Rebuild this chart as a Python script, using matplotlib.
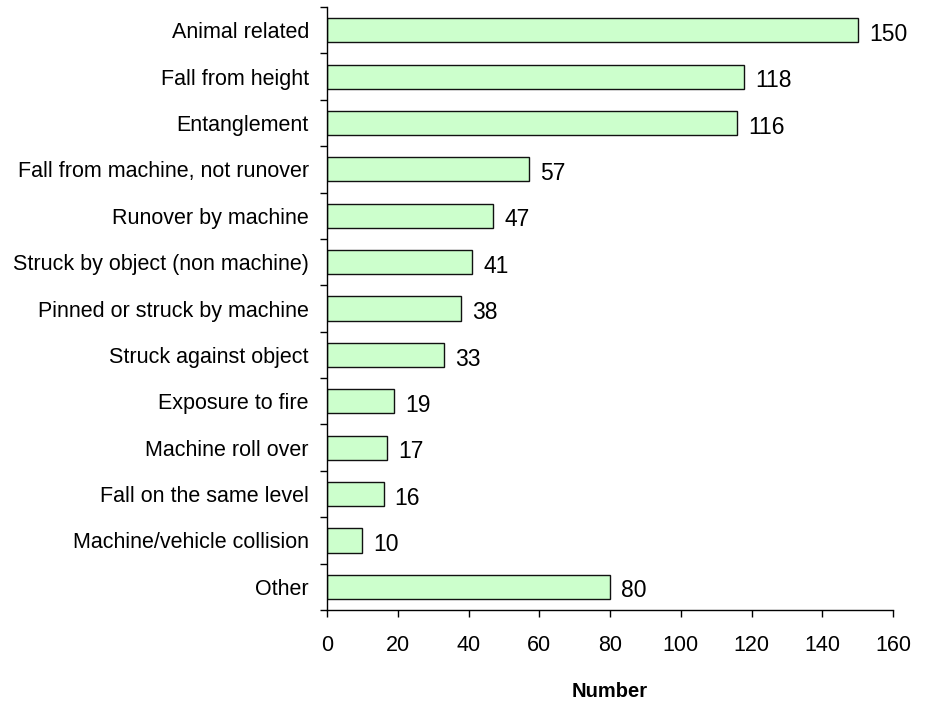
import matplotlib.pyplot as plt
import numpy as np

categories = ['Animal related', 'Fall from height', 'Entanglement',
              'Fall from machine, not runover', 'Runover by machine',
              'Struck by object (non machine)', 'Pinned or struck by machine',
              'Struck against object', 'Exposure to fire', 'Machine roll over',
              'Fall on the same level', 'Machine/vehicle collision', 'Other']
counts = [150, 118, 116, 57, 47, 41, 38, 33, 19, 17, 16, 10, 80]
x_ticks = [0, 20, 40, 60, 80, 100, 120, 140, 160]

plt.rcParams['font.family'] = ['Liberation Sans', 'DejaVu Sans']

fig = plt.figure(figsize=(9.25, 7.04), dpi=100)
ax = fig.add_axes([0.3535, 0.1335, 0.612, 0.8565])

y = np.arange(len(categories))
ax.barh(y, counts, height=0.52, color='#ccffcc', edgecolor='#111111', linewidth=1.0)
for yi, v in zip(y, counts):
    ax.annotate(str(v), (v, yi), xytext=(8, -3), textcoords='offset points',
                ha='left', va='center', fontsize=16.5)

ax.set_ylim(len(categories) - 0.5, -0.5)
ax.set_xlim(0, 160)
ax.set_yticks(y)
ax.set_yticklabels(categories, fontsize=15.5)
ax.set_yticks(np.arange(len(categories) + 1) - 0.5, minor=True)
ax.tick_params(axis='y', which='major', length=0, pad=13)
ax.tick_params(axis='y', which='minor', length=5, width=1, direction='out')
ax.set_xticks(x_ticks)
ax.tick_params(axis='x', length=5, width=1, labelsize=15.5, pad=13)
ax.set_xlabel('Number', fontsize=14.5, fontweight='bold', labelpad=19)

for s in ['top', 'right']:
    ax.spines[s].set_visible(False)
for s in ['left', 'bottom']:
    ax.spines[s].set_linewidth(1.0)

fig.savefig('out.png', dpi=100)
